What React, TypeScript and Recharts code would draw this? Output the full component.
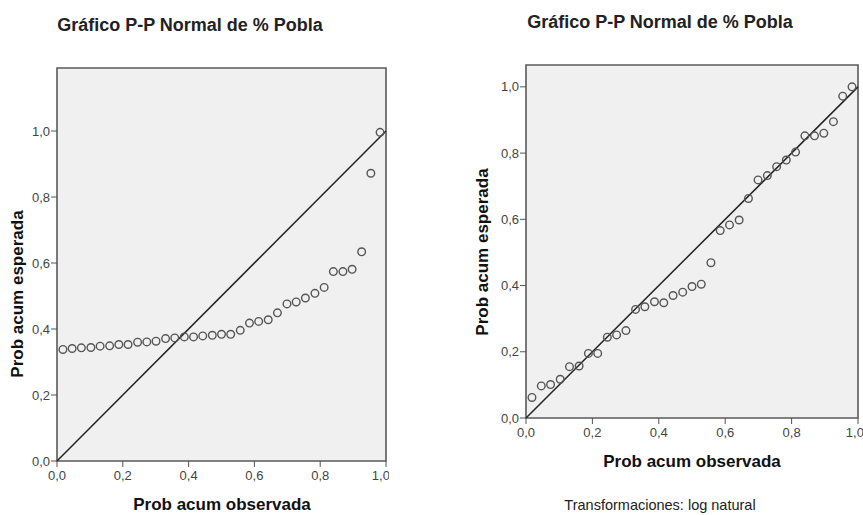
import React from 'react';
import { ScatterChart, Scatter, XAxis, YAxis, CartesianGrid, ReferenceArea, ReferenceLine } from 'recharts';

// observed cumulative probabilities (same 35 cases in both panels)
const observed = [
  0.018, 0.046, 0.074, 0.103, 0.131, 0.160, 0.188, 0.216, 0.245, 0.273,
  0.301, 0.330, 0.358, 0.387, 0.415, 0.443, 0.472, 0.500, 0.528, 0.557,
  0.585, 0.613, 0.642, 0.670, 0.699, 0.727, 0.755, 0.784, 0.812, 0.840,
  0.869, 0.897, 0.926, 0.954, 0.982,
];

// expected cumulative probabilities, raw % Pobla
const expectedRaw = [
  0.338, 0.341, 0.343, 0.344, 0.348, 0.349, 0.353, 0.353, 0.360, 0.361,
  0.363, 0.371, 0.373, 0.376, 0.376, 0.379, 0.381, 0.384, 0.384, 0.396,
  0.418, 0.423, 0.428, 0.449, 0.476, 0.482, 0.494, 0.508, 0.526, 0.574,
  0.574, 0.581, 0.634, 0.872, 0.996,
];

// expected cumulative probabilities after natural log
const expectedLog = [
  0.062, 0.097, 0.101, 0.117, 0.155, 0.157, 0.195, 0.195, 0.244, 0.251,
  0.264, 0.328, 0.336, 0.351, 0.348, 0.370, 0.380, 0.397, 0.404, 0.469,
  0.566, 0.583, 0.598, 0.663, 0.719, 0.732, 0.759, 0.779, 0.803, 0.852,
  0.852, 0.860, 0.895, 0.972, 1.0,
];

const probTicks = [0, 0.2, 0.4, 0.6, 0.8, 1];

const FONT = "'Liberation Sans', Arial, sans-serif";
const fmt = (v: number) => v.toFixed(1).replace('.', ',');

const HollowDot = (props: any) => (
  <circle cx={props.cx} cy={props.cy} r={3.8} fill="none" stroke="#555" strokeWidth={1.4} />
);

interface PanelProps {
  left: number;
  width: number;
  yMax: number;
  margin: { top: number; right: number; bottom: number; left: number };
  expected: number[];
}

const PPPanel: React.FC<PanelProps> = ({ left, width, yMax, margin, expected }) => {
  const data = observed.map((x, i) => ({ x, y: expected[i] }));
  return (
    <div style={{ position: 'absolute', left, top: 0, width, height: 515, overflow: 'hidden' }}>
      <ScatterChart width={width} height={515} margin={margin}>
        <CartesianGrid fill="#f0f0f0" horizontal={false} vertical={false} />
        <XAxis
          type="number"
          dataKey="x"
          domain={[0, 1]}
          ticks={probTicks}
          tickFormatter={fmt}
          height={30}
          axisLine={false}
          tickSize={6}
          tickMargin={4}
          tickLine={{ stroke: '#555' }}
          tick={{ fill: '#444', fontSize: 13 }}
          allowDataOverflow
        />
        <YAxis
          type="number"
          dataKey="y"
          domain={[0, yMax]}
          ticks={probTicks}
          tickFormatter={fmt}
          width={40}
          axisLine={false}
          tickSize={6}
          tickMargin={1}
          tickLine={{ stroke: '#555' }}
          tick={{ fill: '#444', fontSize: 13 }}
          allowDataOverflow
        />
        <ReferenceArea x1={0} x2={1} y1={0} y2={yMax} fill="none" stroke="#5a5a5a" strokeWidth={1.6} />
        <ReferenceLine segment={[{ x: 0, y: 0 }, { x: 1, y: 1 }]} stroke="#222" strokeWidth={1.5} />
        <Scatter data={data} shape={HollowDot} isAnimationActive={false} />
      </ScatterChart>
    </div>
  );
};

export default function App() {
  return (
    <div style={{ position: 'absolute', left: 0, top: 0, width: 863, height: 515, background: '#fff', fontFamily: FONT }}>
      <PPPanel
        left={0}
        width={389}
        yMax={1.191}
        margin={{ top: 68, right: 3, bottom: 24, left: 17 }}
        expected={expectedRaw}
      />
      <PPPanel
        left={430}
        width={433}
        yMax={1.066}
        margin={{ top: 65, right: 5, bottom: 67, left: 56 }}
        expected={expectedLog}
      />
      <svg width={863} height={515} style={{ position: 'absolute', left: 0, top: 0, pointerEvents: 'none' }}>
        <g fontFamily={FONT}>
          <text x={190} y={30.5} textAnchor="middle" fontSize={18} fontWeight="bold" fill="#222">
            Gráfico P-P Normal de % Pobla
          </text>
          <text x={660} y={27.5} textAnchor="middle" fontSize={18} fontWeight="bold" fill="#222">
            Gráfico P-P Normal de % Pobla
          </text>
          <text x={222} y={510} textAnchor="middle" fontSize={17} fontWeight="bold" fill="#111">
            Prob acum observada
          </text>
          <text x={692} y={467} textAnchor="middle" fontSize={17} fontWeight="bold" fill="#111">
            Prob acum observada
          </text>
          <text x={23} y={294} textAnchor="middle" fontSize={17} fontWeight="bold" fill="#111" transform="rotate(-90 23 294)">
            Prob acum esperada
          </text>
          <text x={488} y={252} textAnchor="middle" fontSize={17} fontWeight="bold" fill="#111" transform="rotate(-90 488 252)">
            Prob acum esperada
          </text>
          <text x={660} y={510} textAnchor="middle" fontSize={14.5} fill="#222">
            Transformaciones: log natural
          </text>
        </g>
      </svg>
    </div>
  );
}
